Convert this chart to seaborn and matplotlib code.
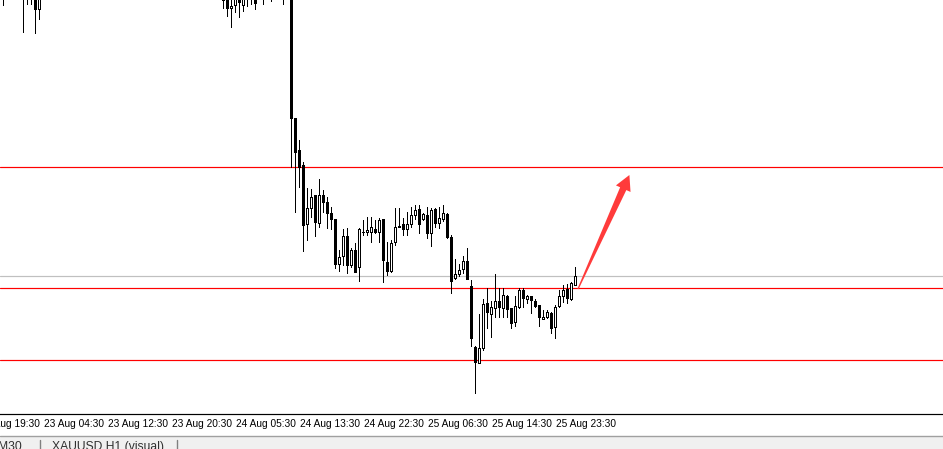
import numpy as np
import matplotlib
matplotlib.use("Agg")
import matplotlib.pyplot as plt
import matplotlib.transforms as mtransforms
from matplotlib.patches import Polygon, Rectangle
from matplotlib.lines import Line2D
import seaborn as sns

# XAUUSD M30 candles, bar number counted from the left edge of the chart
bar = [0, 5, 6, 7, 8, 9,
       55, 56, 57, 58, 59, 60, 61, 62, 63, 65, 67, 70] + list(range(72, 144))

open_ = [1951.2, 1951.0, 1950.8, 1951.1, 1950.6, 1949.1,
         1950.5, 1950.6, 1949.2, 1949.5, 1950.4, 1949.5, 1950.8, 1950.6, 1950.6, 1951.0, 1951.3, 1951.0,
         1950.3, 1938.2, 1935.0, 1933.5, 1927.6, 1929.2, 1930.5, 1927.7, 1930.5, 1929.8,
         1928.7, 1928.1, 1923.6, 1924.4, 1926.4, 1923.5, 1925.0, 1923.3, 1926.8, 1926.8,
         1926.8, 1927.1, 1926.8, 1928.1, 1923.8, 1922.9, 1925.8, 1927.4, 1927.6, 1927.1,
         1927.6, 1928.5, 1929.1, 1928.1, 1928.5, 1926.7, 1929.1, 1927.7, 1928.1, 1928.6,
         1926.3, 1922.2, 1922.6, 1923.1, 1923.9, 1921.4, 1915.3, 1913.7, 1915.2, 1919.7,
         1918.6, 1919.2, 1919.9, 1919.2, 1920.4, 1919.2, 1917.8, 1919.3, 1921.0, 1920.1,
         1920.4, 1919.9, 1919.5, 1918.1, 1918.3, 1918.7, 1917.3, 1919.4, 1920.4, 1921.1,
         1920.1, 1921.5]
high = [1952.0, 1952.0, 1952.0, 1952.0, 1951.5, 1951.4,
        1951.0, 1951.0, 1950.2, 1950.8, 1950.8, 1950.9, 1951.5, 1951.2, 1951.2, 1951.8, 1951.8, 1952.0,
        1950.8, 1938.2, 1936.0, 1933.8, 1931.2, 1931.1, 1930.5, 1932.1, 1931.0, 1930.3,
        1929.3, 1928.1, 1925.0, 1927.1, 1927.2, 1925.2, 1925.7, 1927.2, 1928.0, 1928.3,
        1928.3, 1928.0, 1928.2, 1928.1, 1925.8, 1926.0, 1929.2, 1929.2, 1928.2, 1928.8,
        1929.3, 1929.5, 1929.5, 1928.7, 1929.3, 1929.2, 1929.2, 1929.3, 1929.5, 1928.7,
        1926.5, 1924.1, 1923.6, 1924.4, 1925.2, 1922.0, 1915.4, 1918.6, 1920.1, 1921.2,
        1919.9, 1922.6, 1921.2, 1921.2, 1920.5, 1919.2, 1920.4, 1921.2, 1921.2, 1920.5,
        1920.4, 1920.1, 1919.5, 1919.0, 1919.0, 1918.8, 1919.5, 1921.0, 1921.5, 1921.6,
        1921.8, 1923.3]
low = [1949.5, 1946.8, 1949.6, 1949.6, 1946.7, 1948.1,
       1949.2, 1948.4, 1947.3, 1948.8, 1948.3, 1948.9, 1949.4, 1949.6, 1949.1, 1949.6, 1949.9, 1949.6,
       1933.3, 1928.8, 1931.3, 1924.9, 1926.0, 1928.3, 1926.4, 1927.3, 1928.8, 1927.2,
       1927.1, 1923.2, 1922.9, 1923.5, 1922.7, 1923.3, 1922.8, 1921.9, 1926.5, 1926.5,
       1925.8, 1926.7, 1925.8, 1921.8, 1922.5, 1922.8, 1925.5, 1927.3, 1926.5, 1926.5,
       1927.3, 1928.1, 1926.7, 1928.0, 1926.2, 1925.4, 1927.3, 1927.2, 1927.9, 1926.2,
       1920.7, 1922.1, 1922.4, 1922.7, 1922.1, 1915.4, 1910.7, 1913.7, 1915.0, 1917.2,
       1916.3, 1918.3, 1918.3, 1918.3, 1918.3, 1917.2, 1917.4, 1919.2, 1919.3, 1919.7,
       1918.7, 1919.3, 1917.4, 1918.1, 1918.2, 1916.7, 1916.2, 1919.3, 1919.8, 1919.7,
       1920.0, 1921.5]
close = [1950.6, 1950.4, 1951.3, 1950.7, 1949.1, 1950.8,
         1950.0, 1949.2, 1949.4, 1950.3, 1949.8, 1950.4, 1951.1, 1950.1, 1949.7, 1951.4, 1951.0, 1951.5,
         1938.2, 1934.8, 1933.3, 1927.5, 1929.2, 1930.3, 1927.8, 1930.5, 1929.8, 1928.7,
         1928.1, 1923.6, 1924.3, 1926.4, 1923.5, 1925.0, 1922.8, 1927.1, 1926.8, 1927.0,
         1927.3, 1926.8, 1928.0, 1924.0, 1922.9, 1925.7, 1927.3, 1927.3, 1927.1, 1927.6,
         1928.5, 1929.0, 1927.6, 1928.6, 1926.7, 1929.0, 1927.7, 1928.2, 1928.7, 1926.3,
         1921.9, 1922.6, 1923.0, 1923.9, 1922.1, 1916.2, 1913.8, 1915.2, 1919.6, 1918.8,
         1919.3, 1919.9, 1919.3, 1920.5, 1919.1, 1917.7, 1919.4, 1921.0, 1920.2, 1920.4,
         1920.0, 1919.4, 1918.3, 1918.3, 1918.8, 1917.2, 1919.3, 1920.4, 1921.0, 1920.2,
         1921.7, 1922.4]

red_levels = [1933.3, 1921.2, 1914.0]
bid_level = 1922.4

tick_bars = [-6, 10, 26, 42, 58, 74, 90, 106, 122, 138]
tick_labels = ["22 Aug 19:30", "23 Aug 04:30", "23 Aug 12:30", "23 Aug 20:30",
               "24 Aug 05:30", "24 Aug 13:30", "24 Aug 22:30", "25 Aug 06:30",
               "25 Aug 14:30", "25 Aug 23:30"]

sns.set_style("white")
plt.rcParams["font.family"] = ["Liberation Sans", "DejaVu Sans"]

W, H = 943, 449
axis_y = 414
px = 72 / 100  # one pixel in points
fig = plt.figure(figsize=(W / 100, H / 100), dpi=100)
ax = fig.add_axes([0, 1 - axis_y / H, 1, axis_y / H])

x = np.array(bar)
o = np.array(open_)
c = np.array(close)
up = c >= o

# wicks first, bodies on top (2 px inside + 1 px outline)
ax.vlines(x, low, high, color="black", lw=px, antialiased=False, zorder=2)
ax.bar(x, np.abs(c - o), bottom=np.minimum(o, c), width=0.5,
       color=np.where(up, "white", "black"), edgecolor="black", linewidth=px,
       antialiased=False, zorder=3)

for lv in red_levels:
    ax.axhline(lv, color="#ff0000", lw=px * 1.2, zorder=1)
ax.axhline(bid_level, color="#c0c0c0", lw=px * 1.2, zorder=1)

ax.set_xlim(-0.75, -0.75 + W / 4)
ax.set_ylim(1950.0 - axis_y / 10, 1950.0)

for s in ["left", "top", "right"]:
    ax.spines[s].set_visible(False)
ax.spines["bottom"].set_color("black")
ax.spines["bottom"].set_linewidth(px * 1.2)
ax.set_yticks([])
ax.set_xticks([t for t in tick_bars if t >= 0])
ax.set_xticklabels([])
ax.tick_params(axis="x", direction="out", length=4, width=px * 1.2, color="black")

off = mtransforms.ScaledTranslation(0.01, -0.10, fig.dpi_scale_trans)
for t, lab in zip(tick_bars, tick_labels):
    ax.text(t, 0, lab, transform=ax.get_xaxis_transform() + off,
            ha="left", va="center", fontsize=7.3, color="black", clip_on=False)

# arrow drawn in pixel space so the taper keeps its shape
tail = ax.transData.transform((143.75, 1921.1))
tip = ax.transData.transform((156.6, 1932.5))
d = (tip - tail) / np.linalg.norm(tip - tail)
n = np.array([-d[1], d[0]])
base = tip - d * 15
pts = [tail + n * 0.6, base + n * 3.4, base + n * 8.0, tip,
       base - n * 8.0, base - n * 3.4, tail - n * 0.6]
fig.add_artist(Polygon(pts, closed=True, transform=mtransforms.IdentityTransform(),
                       facecolor="#ff3b3b", edgecolor="none"))

# terminal tab strip at the bottom
band = (H - 436) / H
fig.add_artist(Rectangle((0, 0), 1, band, transform=fig.transFigure,
                         facecolor="#f0f0f0", edgecolor="none"))
fig.add_artist(Line2D([0, 1], [band, band], transform=fig.transFigure,
                      color="#a0a0a0", lw=1.0))
ty = (H - 441) / H
fig.text(-2 / W, ty, "M30", fontsize=8.7, color="#303030", va="top", ha="left")
fig.text(52 / W, ty, "XAUUSD,H1 (visual)", fontsize=8.7, color="#303030", va="top", ha="left")
for sx in [40, 177]:
    fig.add_artist(Line2D([sx / W, sx / W], [0, (H - 440) / H], transform=fig.transFigure,
                          color="#808080", lw=1.0))

fig.savefig("out.png", dpi=100)
